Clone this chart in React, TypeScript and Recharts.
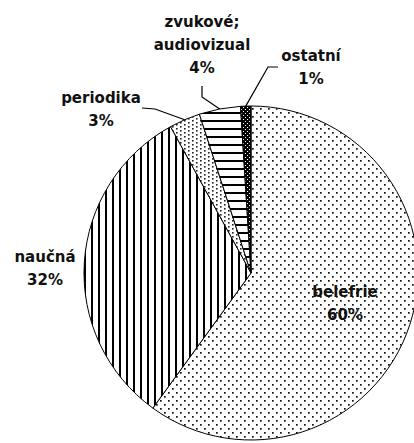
import React from 'react';
import { PieChart, Pie, Cell } from 'recharts';

// ---- data ----
const CATEGORIES = ['belefrie', 'naučná', 'periodika', 'zvukové; audiovizual', 'ostatní'];
const NAME_LINES = [['belefrie'], ['naučná'], ['periodika'], ['zvukové;', 'audiovizual'], ['ostatní']];
const SHARES = [60, 32, 3, 4, 1];
const PERCENT_LABELS = ['60%', '32%', '3%', '4%', '1%'];

// ---- styling / layout config ----
const PATTERN_IDS = ['patBel', 'patNauc', 'patPer', 'patZvuk', 'patOst'];
// label block centre offsets from pie centre, and leader-line bend points relative to label centre
const LABEL_LAYOUT: { dx: number; dy: number; leader?: number[][] }[] = [
  { dx: 94, dy: 30 },
  { dx: -206, dy: -5 },
  { dx: -150, dy: -164, leader: [[41, -1], [54, 0]] },
  { dx: -49, dy: -228, leader: [[0, 41], [0, 52]] },
  { dx: 60, dy: -206, leader: [[-33, 0], [-43, 0]] },
];

const data = CATEGORIES.map((name, i) => ({ name, value: SHARES[i] }));

const FONT = '"DejaVu Sans", Verdana, sans-serif';

function renderLabel(props: any) {
  const { cx, cy, midAngle, outerRadius, index } = props;
  const RAD = Math.PI / 180;
  const ex = cx + outerRadius * Math.cos(-midAngle * RAD);
  const ey = cy + outerRadius * Math.sin(-midAngle * RAD);
  const lay = LABEL_LAYOUT[index];
  const lx = cx + lay.dx;
  const ly = cy + lay.dy;
  const lines = [...NAME_LINES[index], PERCENT_LABELS[index]];
  const lh = 23;
  const y0 = ly - ((lines.length - 1) * lh) / 2;
  let pts: string | null = null;
  if (lay.leader) {
    const p = lay.leader.map(([a, b]) => [lx + a, ly + b]);
    p.push([ex, ey]);
    pts = p.map((q) => q.join(',')).join(' ');
  }
  return (
    <g key={'lbl' + index}>
      {pts && <polyline points={pts} fill="none" stroke="#000" strokeWidth={1.2} />}
      <text
        x={lx}
        y={y0}
        textAnchor="middle"
        dominantBaseline="central"
        fontFamily={FONT}
        fontWeight="bold"
        fontSize={15}
        fill="#111"
      >
        {lines.map((t, k) => (
          <tspan key={k} x={lx} y={y0 + k * lh} dominantBaseline="central">
            {t}
          </tspan>
        ))}
      </text>
    </g>
  );
}

function Patterns() {
  return (
    <svg width={0} height={0} style={{ position: 'absolute' }}>
      <defs>
        <pattern id="patBel" width={8} height={8} patternUnits="userSpaceOnUse">
          <rect width={8} height={8} fill="#fff" />
          <rect x={0} y={0} width={1.7} height={1.7} fill="#111" />
          <rect x={4} y={4} width={1.7} height={1.7} fill="#111" />
        </pattern>
        <pattern id="patNauc" width={7} height={7} patternUnits="userSpaceOnUse">
          <rect width={7} height={7} fill="#fff" />
          <rect x={0} y={0} width={2} height={7} fill="#000" />
        </pattern>
        <pattern id="patPer" width={8} height={4} patternUnits="userSpaceOnUse">
          <rect width={8} height={4} fill="#fff" />
          <rect x={0} y={0} width={1.6} height={1.6} fill="#222" />
          <rect x={4} y={2} width={1.6} height={1.6} fill="#222" />
        </pattern>
        <pattern id="patZvuk" width={8} height={8} patternUnits="userSpaceOnUse">
          <rect width={8} height={8} fill="#fff" />
          <rect x={0} y={0} width={8} height={2} fill="#000" />
        </pattern>
        <pattern id="patOst" width={4} height={4} patternUnits="userSpaceOnUse">
          <rect width={4} height={4} fill="#000" />
          <rect x={1} y={1} width={1} height={1} fill="#fff" />
          <rect x={3} y={3} width={1} height={1} fill="#fff" />
        </pattern>
      </defs>
    </svg>
  );
}

export default function App() {
  return (
    <div style={{ position: 'absolute', left: 0, top: 0, width: 414, height: 443, background: '#fff', overflow: 'hidden' }}>
      <Patterns />
      <PieChart width={414} height={443} margin={{ top: 0, right: 0, bottom: 0, left: 0 }}>
        <Pie
          data={data}
          dataKey="value"
          nameKey="name"
          cx={251}
          cy={273}
          outerRadius={167}
          startAngle={90}
          endAngle={-270}
          isAnimationActive={false}
          label={renderLabel}
          labelLine={false}
          stroke="#000"
          strokeWidth={1}
        >
          {data.map((d, i) => (
            <Cell key={d.name} fill={`url(#${PATTERN_IDS[i]})`} stroke="#000" strokeWidth={1} />
          ))}
        </Pie>
      </PieChart>
    </div>
  );
}
